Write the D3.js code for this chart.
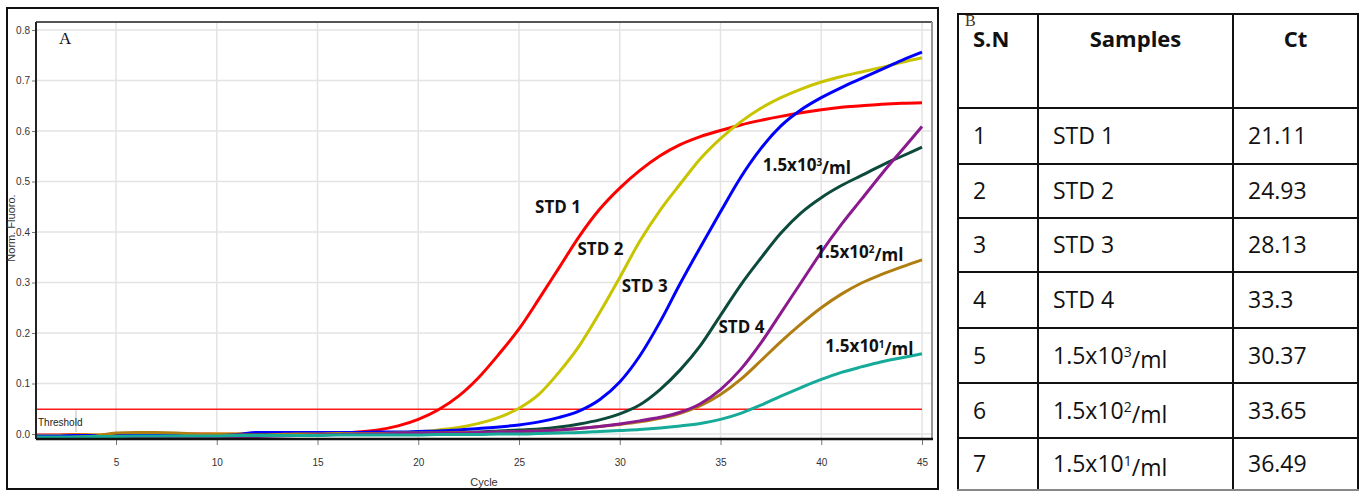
<!DOCTYPE html>
<html>
<head>
<meta charset="utf-8">
<title>qPCR amplification curves</title>
<style>
    body { margin: 0; background: #fff; }
    svg { display: block; }
</style>
</head>
<body>
<main></main>
<script src="https://cdn.jsdelivr.net/npm/d3@7/dist/d3.min.js"></script>
<script>
    // data
    var cycles = d3.range(1, 46);

    var std1 = [-0.002,-0.002,-0.001,-0.002,-0.002,-0.001,-0.001,-0.001,0.000,0.000,0.000,0.000,0.001,0.001,0.002,0.002,
        0.004,0.008,0.016,0.029,0.048,0.075,0.112,0.158,0.208,0.268,0.330,0.392,0.445,0.487,0.522,0.551,0.573,0.589,
        0.601,0.612,0.621,0.629,0.636,0.642,0.647,0.650,0.653,0.655,0.656];
    var std2 = [-0.003,-0.003,-0.002,-0.002,-0.002,-0.001,-0.001,-0.001,-0.001,0.000,0.000,0.000,0.000,0.000,0.000,0.001,
        0.001,0.001,0.002,0.004,0.008,0.013,0.021,0.033,0.051,0.079,0.123,0.175,0.240,0.310,0.382,0.443,0.495,0.545,
        0.585,0.618,0.645,0.666,0.683,0.697,0.708,0.717,0.726,0.736,0.745];
    var std3 = [-0.004,-0.004,-0.003,-0.003,-0.003,-0.003,-0.002,-0.002,-0.002,-0.002,-0.001,0.003,0.003,0.003,0.003,0.003,
        0.003,0.004,0.004,0.005,0.006,0.008,0.011,0.014,0.018,0.024,0.033,0.046,0.068,0.103,0.155,0.222,0.298,0.370,
        0.440,0.508,0.565,0.610,0.642,0.666,0.686,0.704,0.722,0.740,0.756];
    var std4 = [-0.008,-0.008,-0.007,-0.007,-0.007,-0.006,-0.006,-0.006,-0.005,-0.004,-0.003,-0.002,-0.002,-0.001,-0.001,0.000,
        0.000,0.000,0.001,0.001,0.002,0.003,0.004,0.006,0.008,0.010,0.014,0.020,0.028,0.040,0.058,0.088,0.127,0.175,
        0.235,0.295,0.348,0.398,0.438,0.468,0.492,0.512,0.532,0.550,0.568];
    var s1e2brown = [-0.008,-0.008,-0.006,-0.004,0.002,0.003,0.003,0.002,0.000,-0.001,-0.002,-0.002,-0.001,0.000,0.000,0.001,
        0.001,0.001,0.002,0.002,0.002,0.003,0.003,0.004,0.005,0.006,0.008,0.011,0.015,0.019,0.024,0.031,0.041,0.056,
        0.078,0.108,0.145,0.183,0.218,0.250,0.277,0.299,0.316,0.331,0.345];
    var s1e2purple = [-0.010,-0.010,-0.010,-0.010,-0.009,-0.009,-0.009,-0.008,-0.008,-0.007,-0.006,-0.005,-0.004,-0.003,-0.002,-0.001,
        0.000,0.000,0.001,0.001,0.002,0.002,0.003,0.004,0.005,0.006,0.008,0.011,0.015,0.020,0.026,0.033,0.043,0.060,
        0.088,0.128,0.180,0.240,0.300,0.360,0.415,0.465,0.515,0.562,0.609];
    var s1e1 = [-0.006,-0.006,-0.006,-0.005,-0.005,-0.004,-0.004,-0.004,-0.004,-0.004,-0.003,-0.003,-0.003,-0.003,-0.003,-0.002,
        -0.002,-0.002,-0.002,-0.002,-0.001,-0.001,-0.001,0.000,0.000,0.001,0.002,0.003,0.005,0.007,0.009,0.012,0.016,0.021,
        0.029,0.041,0.057,0.075,0.092,0.108,0.122,0.133,0.143,0.151,0.159];

    // drawing order = order in this list
    var seriesValues = [std1, std2, std3, std4, s1e2brown, s1e2purple, s1e1];
    var seriesColors = ["#ff0000", "#c8c400", "#0000ff", "#0c4a3c", "#b07d10", "#8a1a8e", "#16ab98"];

    var threshold = 0.049;
    var yTicks = [0, 0.1, 0.2, 0.3, 0.4, 0.5, 0.6, 0.7, 0.8];
    var xTicks = [5, 10, 15, 20, 25, 30, 35, 40, 45];

    // curve annotations, anchored in data units (cycle, fluorescence)
    var labelText = ["STD 1", "STD 2", "STD 3", "STD 4", "1.5x10^3/ml", "1.5x10^2/ml", "1.5x10^1/ml"];
    var labelCycle = [25.8, 27.9, 30.1, 34.9, 37.1, 39.7, 40.2];
    var labelValue = [0.438, 0.355, 0.281, 0.200, 0.521, 0.349, 0.162];

    // table B
    var tableHead = ["S.N", "Samples", "Ct"];
    var tableSN = ["1", "2", "3", "4", "5", "6", "7"];
    var tableSamples = ["STD 1", "STD 2", "STD 3", "STD 4", "1.5x10^3/ml", "1.5x10^2/ml", "1.5x10^1/ml"];
    var tableCt = ["21.11", "24.93", "28.13", "33.3", "30.37", "33.65", "36.49"];

    var width = 1363, height = 491;
    var svg = d3.select("main").append("svg")
        .attr("width", width).attr("height", height);

    var narrow = "'Liberation Sans Narrow', 'Arial Narrow', 'Liberation Sans', Arial, sans-serif";
    var calib = "'Open Sans', 'Noto Sans', sans-serif";

    // panel A frame
    svg.append("rect")
        .attr("x", 7).attr("y", 8).attr("width", 931).attr("height", 481)
        .attr("fill", "none").attr("stroke", "#111").attr("stroke-width", 2);

    var plotL = 36, plotR = 932, plotT = 22, plotB = 439;

    var x = d3.scaleLinear().domain([1, 45]).range([35.4, 922]);
    var y = d3.scaleLinear().domain([0, 0.8]).range([434, 30]);

    // grid
    svg.append("g").selectAll("line").data(yTicks).enter().append("line")
        .attr("x1", plotL).attr("x2", plotR)
        .attr("y1", function (d) { return y(d); }).attr("y2", function (d) { return y(d); })
        .attr("stroke", "#e3e3e3").attr("stroke-width", 1.5);
    svg.append("g").selectAll("line").data(xTicks).enter().append("line")
        .attr("x1", function (d) { return x(d); }).attr("x2", function (d) { return x(d); })
        .attr("y1", plotT).attr("y2", plotB)
        .attr("stroke", "#e3e3e3").attr("stroke-width", 1.5);

    // axes
    var yAxis = svg.append("g").attr("transform", "translate(" + plotL + ",0)")
        .call(d3.axisLeft(y).tickValues(yTicks).tickFormat(d3.format(".1f")).tickSize(4).tickPadding(2));
    var xAxis = svg.append("g").attr("transform", "translate(0," + plotB + ")")
        .call(d3.axisBottom(x).tickValues(xTicks).tickFormat(d3.format("d")).tickSize(6).tickPadding(14));
    [yAxis, xAxis].forEach(function (ax) {
        ax.select(".domain").remove();
        ax.selectAll("line").attr("stroke", "#777");
        ax.selectAll("text").attr("fill", "#333")
            .style("font-family", narrow).style("font-size", "10px");
    });

    // threshold
    svg.append("line")
        .attr("x1", plotL).attr("x2", x(45))
        .attr("y1", y(threshold)).attr("y2", y(threshold))
        .attr("stroke", "#ff1a1a").attr("stroke-width", 1.5);
    svg.append("line")
        .attr("x1", 76).attr("x2", 76).attr("y1", y(threshold) + 1).attr("y2", y(0) - 2)
        .attr("stroke", "#bbb").attr("stroke-width", 1);
    svg.append("text").attr("x", 38).attr("y", 426)
        .style("font-family", narrow).style("font-size", "10px").attr("fill", "#222")
        .text("Threshold");

    // curves
    svg.append("clipPath").attr("id", "plotclip").append("rect")
        .attr("x", plotL).attr("y", plotT).attr("width", plotR - plotL).attr("height", plotB - plotT - 1);

    var line = d3.line()
        .x(function (d, i) { return x(cycles[i]); })
        .y(function (d) { return y(d); })
        .curve(d3.curveMonotoneX);

    svg.append("g").attr("clip-path", "url(#plotclip)")
        .selectAll("path").data(seriesValues).enter().append("path")
        .attr("d", line)
        .attr("fill", "none")
        .attr("stroke", function (d, i) { return seriesColors[i]; })
        .attr("stroke-width", 3);

    // plot border
    svg.append("line").attr("x1", plotL).attr("x2", plotR).attr("y1", plotT).attr("y2", plotT)
        .attr("stroke", "#555").attr("stroke-width", 2);
    svg.append("line").attr("x1", plotR).attr("x2", plotR).attr("y1", plotT).attr("y2", plotB)
        .attr("stroke", "#999").attr("stroke-width", 2);
    svg.append("line").attr("x1", plotL).attr("x2", plotL).attr("y1", plotT).attr("y2", plotB)
        .attr("stroke", "#222").attr("stroke-width", 2);
    svg.append("line").attr("x1", plotL).attr("x2", plotR + 1).attr("y1", plotB).attr("y2", plotB)
        .attr("stroke", "#111").attr("stroke-width", 2.5);

    // axis titles
    svg.append("text").attr("x", 484).attr("y", 486).attr("text-anchor", "middle")
        .style("font-family", narrow).style("font-size", "11px").attr("fill", "#333")
        .text("Cycle");
    svg.append("text").attr("transform", "translate(15,228) rotate(-90)").attr("text-anchor", "middle")
        .style("font-family", narrow).style("font-size", "11px").attr("fill", "#333")
        .text("Norm. Fluoro.");

    svg.append("text").attr("x", 59).attr("y", 44)
        .style("font-family", "'Liberation Serif', 'DejaVu Serif', serif").style("font-size", "17px")
        .attr("fill", "#111").text("A");

    // text with ^ superscript
    function richText(sel, str, supSize) {
        var parts = str.split("^");
        sel.append("tspan").text(parts[0]);
        if (parts.length > 1) {
            sel.append("tspan").attr("dy", "-0.45em").style("font-size", supSize).text(parts[1].charAt(0));
            sel.append("tspan").attr("dy", "0.45em").text(parts[1].slice(1));
        }
    }

    // curve labels
    labelText.forEach(function (t, i) {
        var tx = svg.append("text")
            .attr("x", x(labelCycle[i])).attr("y", y(labelValue[i]))
            .style("font-family", calib).style("font-size", "17px").style("font-weight", "bold")
            .attr("fill", "#111");
        richText(tx, t, "10px");
    });

    // table B
    var colX = [958, 1038, 1233, 1358];
    var rowY = [14, 108, 164, 218, 272, 328, 383, 438, 490];
    var tb = svg.append("g");
    colX.forEach(function (cx) {
        tb.append("line").attr("x1", cx).attr("x2", cx).attr("y1", rowY[0]).attr("y2", rowY[rowY.length - 1])
            .attr("stroke", "#111").attr("stroke-width", 2);
    });
    rowY.forEach(function (ry, i) {
        tb.append("line").attr("x1", colX[0] - 1).attr("x2", colX[3] + 1).attr("y1", ry).attr("y2", ry)
            .attr("stroke", i === rowY.length - 1 ? "#888" : "#111").attr("stroke-width", 2);
    });

    tb.append("text").attr("x", colX[0] + 15).attr("y", 47)
        .style("font-family", calib).style("font-size", "22px").style("font-weight", "bold")
        .attr("fill", "#111").text(tableHead[0]);
    [1, 2].forEach(function (c) {
        tb.append("text").attr("x", (colX[c] + colX[c + 1]) / 2).attr("y", 47).attr("text-anchor", "middle")
            .style("font-family", calib).style("font-size", "22px").style("font-weight", "bold")
            .attr("fill", "#111").text(tableHead[c]);
    });

    tableSN.forEach(function (sn, r) {
        var by = (rowY[r + 1] + rowY[r + 2]) / 2 + 8;
        var cells = [sn, tableSamples[r], tableCt[r]];
        cells.forEach(function (v, c) {
            var t = tb.append("text").attr("x", colX[c] + 15).attr("y", by)
                .style("font-family", calib).style("font-size", "23px").attr("fill", "#111");
            richText(t, v, "14px");
        });
    });

    svg.append("text").attr("x", 965).attr("y", 26)
        .style("font-family", "'Liberation Serif', 'DejaVu Serif', serif").style("font-size", "16px")
        .attr("fill", "#4a3320").text("B");
</script>
</body>
</html>
